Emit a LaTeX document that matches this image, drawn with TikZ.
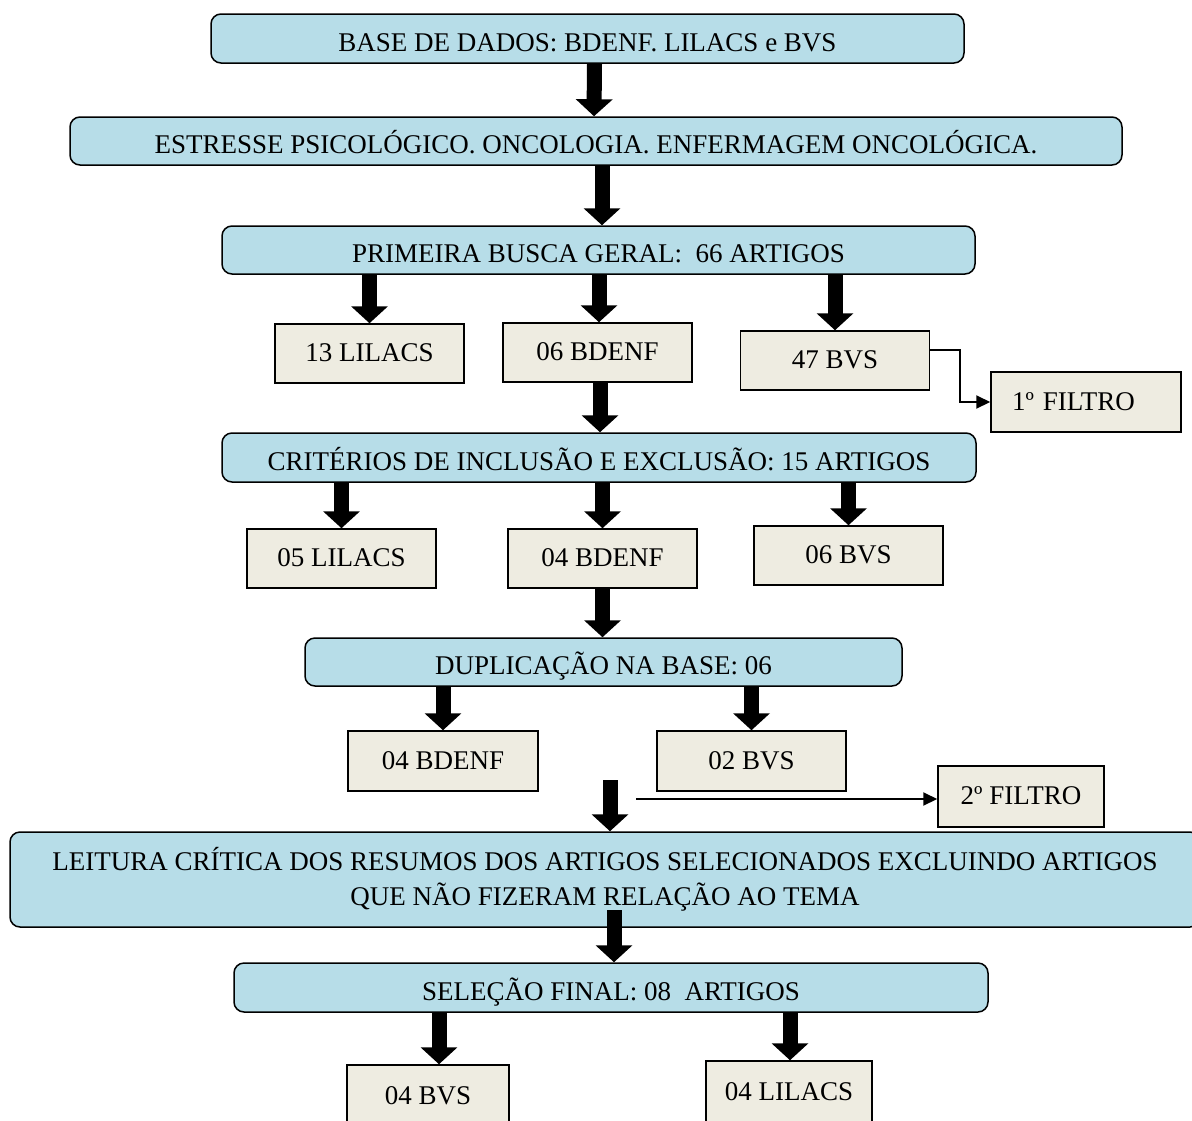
\documentclass[tikz,border=0pt]{standalone}
\usepackage{fontspec}
\setmainfont{Liberation Serif}
\usetikzlibrary{arrows.meta, positioning}
\definecolor{stageblue}{HTML}{B7DDE8}
\definecolor{countbeige}{HTML}{EEECE1}

\begin{document}
\begin{tikzpicture}[
			x=1pt, y=-1pt,
			stage/.style={draw, line width=1.5pt, rounded corners=10pt, fill=stageblue, inner sep=0pt, align=center, font=\fontsize{27}{35}\selectfont},
			oneline/.style={text height=27pt, text depth=2pt},
			count/.style={draw, line width=1.5pt, fill=countbeige, inner sep=0pt, minimum width=189pt, minimum height=59pt, text height=18pt, text depth=2pt, font=\fontsize{27}{35}\selectfont},
			bigarrow/.style={line width=15pt, -{Triangle[width=36pt, length=17pt]}},
			thinarrow/.style={line width=2pt, -{Triangle[width=13pt, length=14pt]}}
			]
			\useasboundingbox (0,0) rectangle (1192,1120);
			\node[stage, oneline, minimum width=753pt, minimum height=49pt] (base) at (587.5,38.5) {BASE DE DADOS: BDENF. LILACS e BVS};
			\node[stage, oneline, minimum width=1052pt, minimum height=48pt] (descritores) at (596,141) {ESTRESSE PSICOLÓGICO. ONCOLOGIA. ENFERMAGEM ONCOLÓGICA.};
			\node[stage, oneline, minimum width=753pt, minimum height=48pt] (busca) at (598.5,250) {PRIMEIRA BUSCA GERAL:\ \ 66 ARTIGOS};
			\node[count] (lilacsA) at (369.5,353.5) {13 LILACS};
			\node[count] (bdenfA) at (597.5,352.5) {06 BDENF};
			\node[count] (bvsA) at (835,360.5) {47 BVS};
			\node[count, minimum width=190pt, minimum height=60pt, text width=148pt, align=left] (filtroA) at (1086,402) {1º FILTRO};
			\node[stage, oneline, minimum width=754pt, minimum height=49pt] (criterios) at (599,457.5) {CRITÉRIOS DE INCLUSÃO E EXCLUSÃO: 15 ARTIGOS};
			\node[count] (lilacsB) at (341.5,558.5) {05 LILACS};
			\node[count] (bdenfB) at (602.5,558.5) {04 BDENF};
			\node[count] (bvsB) at (848.5,555.5) {06 BVS};
			\node[stage, oneline, minimum width=597pt, minimum height=48pt] (duplicacao) at (603.5,662) {DUPLICAÇÃO NA BASE: 06};
			\node[count, minimum width=190pt, minimum height=60pt] (bdenfC) at (443,761) {04 BDENF};
			\node[count, minimum width=189pt, minimum height=60pt] (bvsC) at (751.5,761) {02 BVS};
			\node[count, minimum width=166pt, minimum height=61pt] (filtroB) at (1021,796.5) {2º FILTRO};
			\node[stage, minimum width=1190pt, minimum height=95pt] (leitura) at (605,879.5) {LEITURA CRÍTICA DOS RESUMOS DOS ARTIGOS SELECIONADOS EXCLUINDO ARTIGOS\\QUE NÃO FIZERAM RELAÇÃO AO TEMA};
			\node[stage, oneline, minimum width=754pt, minimum height=49pt] (final) at (611,987.5) {SELEÇÃO FINAL: 08\ \ ARTIGOS};
			\node[count, minimum width=162pt, minimum height=62pt] (bvsD) at (428,1096) {04 BVS};
			\node[count, minimum width=166pt, minimum height=62pt] (lilacsD) at (789,1092) {04 LILACS};
			\coordinate (leituraIn) at (610,780);
			\coordinate (filtroOut) at (636,799);

			\draw[bigarrow] ([xshift=7pt]base.south) -- ([xshift=-2pt]descritores.north);
			\draw[bigarrow] ([xshift=6pt]descritores.south) -- ([xshift=3.5pt]busca.north);
			\draw[bigarrow] (lilacsA.north |- busca.south) -- (lilacsA.north);
			\draw[bigarrow] ([xshift=1.5pt]bdenfA.north |- busca.south) -- ([xshift=1.5pt]bdenfA.north);
			\draw[bigarrow] (bvsA.north |- busca.south) -- (bvsA.north);
			\draw[thinarrow] ([yshift=11pt]bvsA.east) -| (960,380) |- (filtroA.west);
			\draw[bigarrow] ([xshift=2.5pt]bdenfA.south) -- ([xshift=2.5pt]bdenfA.south |- criterios.north);
			\draw[bigarrow] (lilacsB.north |- criterios.south) -- (lilacsB.north);
			\draw[bigarrow] (bdenfB.north |- criterios.south) -- (bdenfB.north);
			\draw[bigarrow] (bvsB.north |- criterios.south) -- (bvsB.north);
			\draw[bigarrow] (bdenfB.south) -- (bdenfB.south |- duplicacao.north);
			\draw[bigarrow] (bdenfC.north |- duplicacao.south) -- (bdenfC.north);
			\draw[bigarrow] (bvsC.north |- duplicacao.south) -- (bvsC.north);
			\draw[bigarrow] (leituraIn) -- (leituraIn |- leitura.north);
			\draw[thinarrow] (filtroOut) -- (filtroOut -| filtroB.west);
			\draw[bigarrow] ([xshift=3pt]final.north |- 0,910) -- ([xshift=3pt]final.north);
			\draw[bigarrow] ([xshift=11pt]bvsD.north |- final.south) -- ([xshift=11pt]bvsD.north);
			\draw[bigarrow] ([xshift=1pt]lilacsD.north |- final.south) -- ([xshift=1pt]lilacsD.north);
		\end{tikzpicture}
\end{document}
